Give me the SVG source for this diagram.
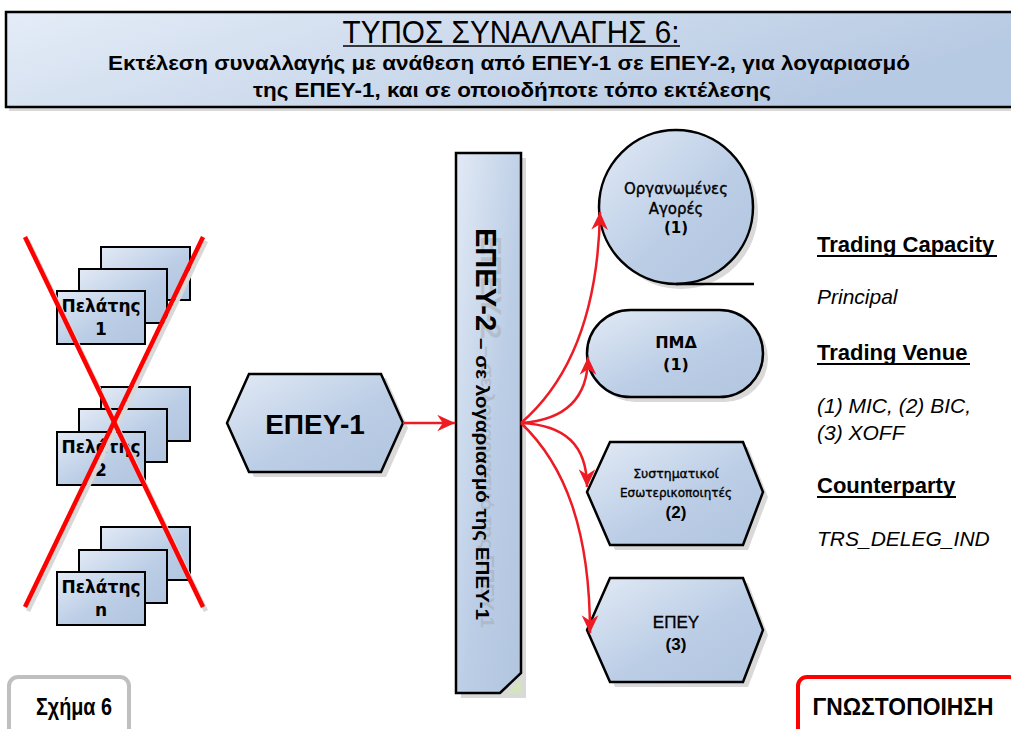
<svg xmlns="http://www.w3.org/2000/svg" width="1011" height="729" viewBox="0 0 1011 729">
<defs>
<linearGradient id="hdr" x1="0" y1="0" x2="1" y2="0.3">
<stop offset="0" stop-color="#e4ecf7"/><stop offset="1" stop-color="#b7cae3"/>
</linearGradient>
<linearGradient id="nd" x1="0" y1="0" x2="1" y2="1">
<stop offset="0" stop-color="#e2eaf5"/><stop offset="0.55" stop-color="#bccee6"/><stop offset="1" stop-color="#b2c5df"/>
</linearGradient>
<marker id="ah" markerWidth="20" markerHeight="20" viewBox="-16 -8 18 16" refX="0" refY="0" orient="auto" markerUnits="userSpaceOnUse">
<path d="M0,0 L-16,-7.5 L-11,0 L-16,7.5 Z" fill="#ed1c24"/>
</marker>
<style>
.sh{fill:#d9d9d9;stroke:none}
.nd{fill:url(#nd);stroke:#000;stroke-width:2.5;stroke-linejoin:miter}
.cl{fill:url(#nd);stroke:#000;stroke-width:2}
.t{font-family:"DejaVu Sans",Verdana,sans-serif;fill:#000;text-anchor:middle}
.m{stroke:#000;stroke-width:0.35}
.a{font-family:"Liberation Sans",Arial,sans-serif;fill:#000}
.n{font-family:"Liberation Sans Narrow","Liberation Sans",Arial,sans-serif;fill:#000;text-anchor:middle}
.b{font-weight:bold}
.cn{fill:none;stroke:#ed1c24;stroke-width:2.5}
.x{stroke:#ff0000;stroke-width:4.5;stroke-linecap:butt}
.xs{stroke:#d8d8d8;stroke-width:4.5}
</style>
</defs>
<rect width="1011" height="729" fill="#fff"/>

<g id="header">
<rect x="9" y="16" width="1010" height="95" class="sh" fill="#e6e6e6"/>
<rect x="6" y="12" width="1010" height="95" fill="url(#hdr)" stroke="#000" stroke-width="2.5"/>
<text class="n" x="511" y="43" font-size="32" textLength="337" lengthAdjust="spacingAndGlyphs">ΤΥΠΟΣ ΣΥΝΑΛΛΑΓΗΣ 6:</text>
<line x1="343" y1="46" x2="680" y2="46" stroke="#000" stroke-width="1.5"/>
<text class="n b" x="509" y="70" font-size="21" textLength="802" lengthAdjust="spacingAndGlyphs">Εκτέλεση συναλλαγής με ανάθεση από ΕΠΕΥ-1 σε ΕΠΕΥ-2, για λογαριασμό</text>
<text class="n b" x="512" y="97" font-size="21" textLength="518" lengthAdjust="spacingAndGlyphs">της ΕΠΕΥ-1, και σε οποιοδήποτε τόπο εκτέλεσης</text>
</g>

<g id="client1">
<rect x="101" y="247" width="89" height="53" class="cl"/>
<rect x="79" y="269" width="88" height="54" class="cl"/>
<rect x="57" y="291" width="88" height="53" class="cl"/>
<text class="t b" x="101" y="312" font-size="17">Πελάτης</text>
<text class="t b" x="101" y="335" font-size="17">1</text>
</g>
<g id="client2">
<rect x="101" y="387" width="89" height="54" class="cl"/>
<rect x="79" y="409" width="88" height="53" class="cl"/>
<rect x="57" y="432" width="88" height="53" class="cl"/>
<text class="t b" x="101" y="453" font-size="17">Πελάτης</text>
<text class="t b" x="101" y="476" font-size="17">2</text>
</g>
<g id="clientn">
<rect x="101" y="527" width="89" height="53" class="cl"/>
<rect x="79" y="550" width="88" height="53" class="cl"/>
<rect x="57" y="572" width="88" height="53" class="cl"/>
<text class="t b" x="101" y="593" font-size="17">Πελάτης</text>
<text class="t b" x="101" y="616" font-size="17">n</text>
</g>

<g id="cross">
<line x1="28" y1="241" x2="206" y2="611" class="xs"/>
<line x1="206" y1="241" x2="28" y2="611" class="xs"/>
<line x1="25" y1="237" x2="203" y2="607" class="x"/>
<line x1="203" y1="237" x2="25" y2="607" class="x"/>
</g>

<g id="epey1">
<polygon points="232,428 254,378 386,378 408,428 386,477 254,477" class="sh"/>
<polygon points="227,423 249,374 381,374 403,423 381,472 249,472" class="nd"/>
<text class="a b" x="315" y="434" font-size="28" text-anchor="middle">ΕΠΕΥ-1</text>
</g>

<g id="epey2">
<path d="M461,158 L526,158 L526,698 L461,698 Z" class="sh"/>
<path d="M456,153 L521,153 L521,673 L500,693 L456,693 Z" class="nd"/>
<path d="M521,679 L521,693 L507,693 Z" fill="#d6e3bf"/>
<g transform="translate(481,236) rotate(90)" fill="#9a9a9a" opacity="0.35" font-family="Liberation Sans, Arial, sans-serif" font-weight="bold">
<text x="0" y="0" font-size="29">ΕΠΕΥ-2</text>
<text x="110" y="0" font-size="18" textLength="282" lengthAdjust="spacingAndGlyphs">– σε λογαριασμό της ΕΠΕΥ-1</text>
</g>
<g transform="translate(476,228) rotate(90)" fill="#000" font-family="Liberation Sans, Arial, sans-serif" font-weight="bold">
<text x="0" y="0" font-size="29">ΕΠΕΥ-2</text>
<text x="110" y="0" font-size="18" textLength="282" lengthAdjust="spacingAndGlyphs">– σε λογαριασμό της ΕΠΕΥ-1</text>
</g>
</g>

<g id="markets">
<circle cx="681" cy="212" r="77" class="sh"/>
<circle cx="676" cy="207" r="77" class="nd"/>
<line x1="676" y1="284" x2="754" y2="284" stroke="#000" stroke-width="2.5"/>
<text class="t m" x="676" y="194" font-size="15">Οργανωμένες</text>
<text class="t m" x="676" y="214" font-size="15">Αγορές</text>
<text class="t b" x="676" y="233" font-size="15">(1)</text>
</g>

<g id="pmd">
<rect x="592" y="315" width="176" height="87" rx="43.5" class="sh"/>
<rect x="587" y="310" width="176" height="87" rx="43.5" class="nd"/>
<text class="t b" x="676" y="348" font-size="16">ΠΜΔ</text>
<text class="t b" x="676" y="370" font-size="16">(1)</text>
</g>

<g id="si">
<polygon points="592,497 615,447 748,447 768,497 748,550 615,550" class="sh"/>
<polygon points="587,492 610,442 743,442 763,492 743,545 610,545" class="nd"/>
<text class="t m" x="676" y="478" font-size="12.5">Συστηματικοί</text>
<text class="t m" x="676" y="497" font-size="12">Εσωτερικοποιητές</text>
<text class="a b" x="676" y="518" font-size="17" text-anchor="middle">(2)</text>
</g>

<g id="epey">
<polygon points="592,635 615,583 748,583 768,635 748,687 615,687" class="sh"/>
<polygon points="587,630 610,578 743,578 763,630 743,682 610,682" class="nd"/>
<text class="a m" x="676" y="628" font-size="17" text-anchor="middle">ΕΠΕΥ</text>
<text class="a b" x="676" y="650" font-size="17" text-anchor="middle">(3)</text>
</g>

<g id="connectors">
<line x1="403" y1="423" x2="455" y2="423" class="cn" marker-end="url(#ah)"/>
<path d="M521,423 C565,385 598,320 600,212" class="cn" marker-end="url(#ah)"/>
<path d="M521,423 C565,420 588,398 588,357" class="cn" marker-end="url(#ah)"/>
<path d="M521,423 C565,425 587,445 587,487" class="cn" marker-end="url(#ah)"/>
<path d="M521,423 C565,465 590,530 590,633" class="cn" marker-end="url(#ah)"/>
</g>

<g id="legend">
<text class="a b" x="817" y="252" font-size="22">Trading Capacity</text>
<line x1="817" y1="256" x2="997" y2="256" stroke="#000" stroke-width="2"/>
<text class="a" x="817" y="304" font-size="21" font-style="italic">Principal</text>
<text class="a b" x="817" y="360" font-size="22">Trading Venue</text>
<line x1="817" y1="364" x2="970" y2="364" stroke="#000" stroke-width="2"/>
<text class="a" x="817" y="413" font-size="21" font-style="italic">(1) MIC, (2) BIC,</text>
<text class="a" x="817" y="440" font-size="21" font-style="italic">(3) XOFF</text>
<text class="a b" x="817" y="493" font-size="22">Counterparty</text>
<line x1="817" y1="497" x2="956" y2="497" stroke="#000" stroke-width="2"/>
<text class="a" x="817" y="546" font-size="21" font-style="italic">TRS_DELEG_IND</text>
</g>

<g id="fig-label">
<rect x="9" y="677" width="120" height="70" rx="9" fill="#fff" stroke="#bfbfbf" stroke-width="4"/>
<text class="n b" x="74" y="715" font-size="24" textLength="76" lengthAdjust="spacingAndGlyphs">Σχήμα 6</text>
</g>
<g id="notification">
<rect x="798" y="677" width="220" height="70" rx="9" fill="#fff" stroke="#ff0000" stroke-width="4"/>
<text class="n b" x="903" y="715" font-size="24" textLength="181" lengthAdjust="spacingAndGlyphs">ΓΝΩΣΤΟΠΟΙΗΣΗ</text>
</g>
</svg>
